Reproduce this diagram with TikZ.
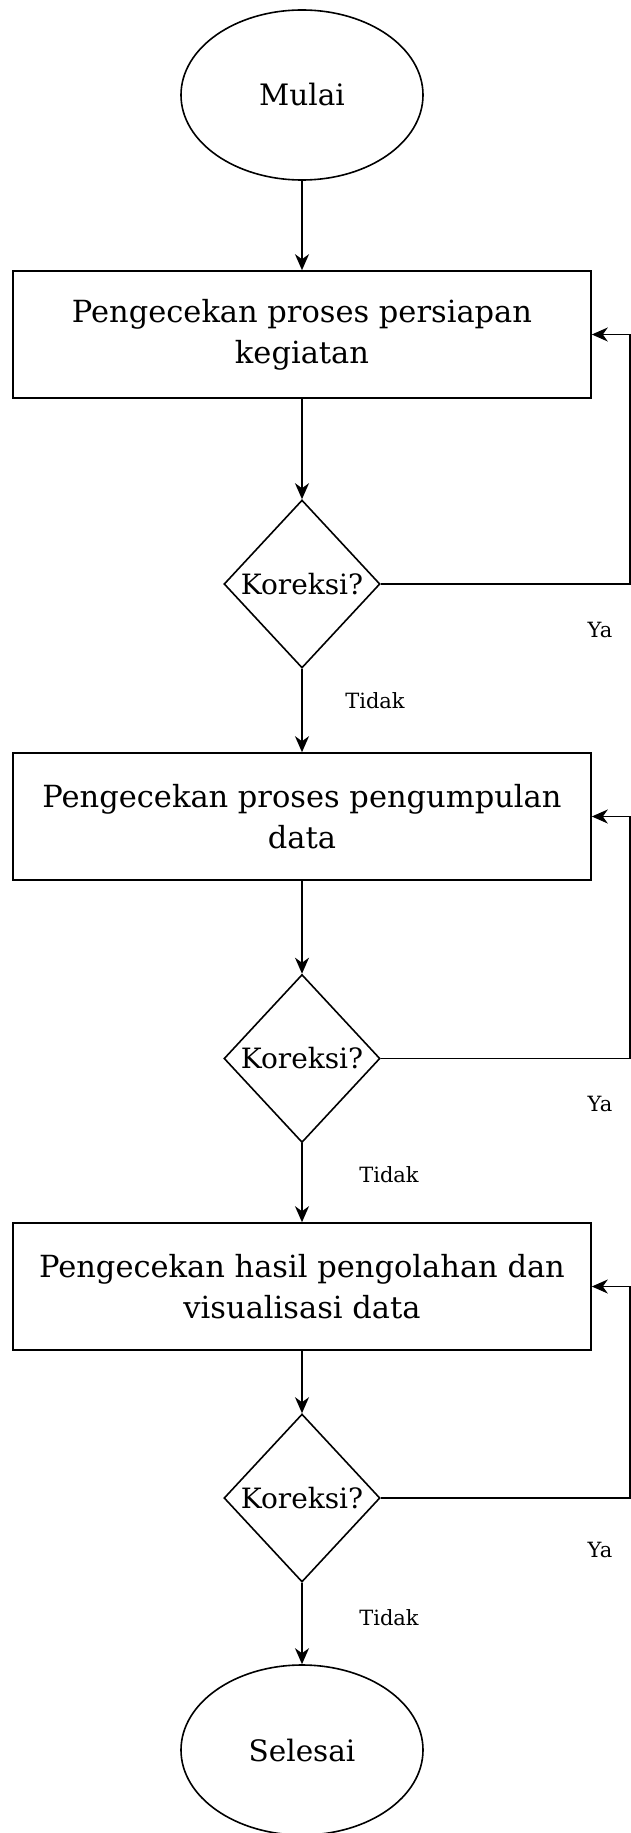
\documentclass[tikz,border=0pt]{standalone}
\usepackage{fontspec}
\setmainfont{DejaVu Serif}
\usetikzlibrary{shapes.geometric,arrows.meta}

\begin{document}
\begin{tikzpicture}[x=1pt,y=-1pt,
  line width=1.6pt,
  flow/.style={-{Stealth[length=16pt,width=14pt,inset=5pt]}},
  terminal/.style={draw,ellipse,minimum width=242pt,minimum height=170pt,
    inner sep=0pt,font=\fontsize{29.5}{35}\selectfont},
  process/.style={draw,rectangle,minimum width=578pt,minimum height=127pt,
    inner sep=0pt,align=center,font=\fontsize{30.5}{41}\selectfont},
  decision/.style={draw,diamond,aspect=0.93,minimum width=156pt,
    minimum height=168pt,inner sep=0pt,font=\fontsize{28}{33}\selectfont},
  answer/.style={inner sep=0pt,font=\fontsize{21}{25}\selectfont}
]
\useasboundingbox (0,0) rectangle (631,1833);

% main flow
\node[terminal] (start) at (302,95) {Mulai};
\node[process]  (p1) at (302,334.5) {Pengecekan proses persiapan\\kegiatan};
\node[decision] (d1) at (302,584) {Koreksi?};
\node[process]  (p2) at (302,816.5) {Pengecekan proses pengumpulan\\data};
\node[decision] (d2) at (302,1058.5) {Koreksi?};
\node[process]  (p3) at (302,1286.5) {Pengecekan hasil pengolahan dan\\visualisasi data};
\node[decision] (d3) at (302,1498) {Koreksi?};
\node[terminal] (stop) at (302,1750) {Selesai};

% branch labels
\node[answer] (n1) at (375,701) {Tidak};
\node[answer] (n2) at (389,1175) {Tidak};
\node[answer] (n3) at (389,1618) {Tidak};
\node[answer] (y1) at (600,630) {Ya};
\node[answer] (y2) at (600,1104) {Ya};
\node[answer] (y3) at (600,1550) {Ya};

% right-hand return rail
\coordinate (rail) at (630,0);

\draw[flow] (start) -- (p1);
\draw[flow] (p1) -- (d1);
\draw[flow] (d1) -- (p2);
\draw[flow] (p2) -- (d2);
\draw[flow] (d2) -- (p3);
\draw[flow] (p3) -- (d3);
\draw[flow] (d3) -- (stop);

\draw[flow] (d1.east) -- (d1.east -| rail) |- (p1.east);
\draw[flow] (d2.east) -- (d2.east -| rail) |- (p2.east);
\draw[flow] (d3.east) -- (d3.east -| rail) |- (p3.east);
\end{tikzpicture}
\end{document}
